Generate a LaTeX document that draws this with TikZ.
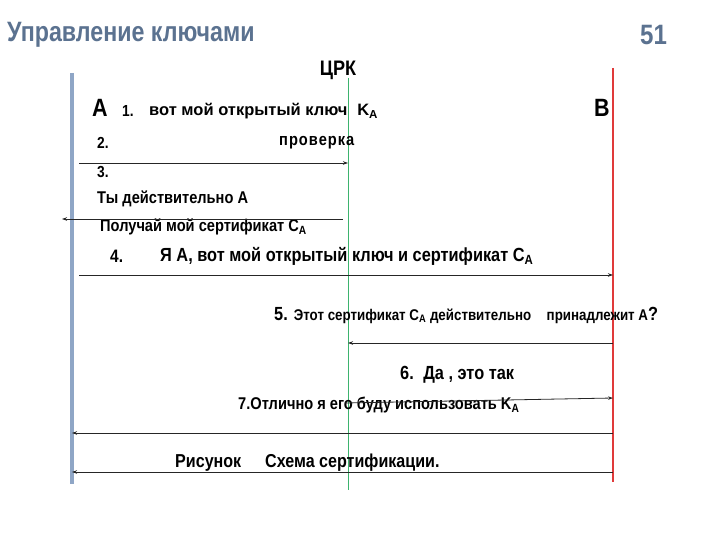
\documentclass[tikz,border=0pt]{standalone}
\usepackage{fontspec}
\setmainfont{Liberation Sans}[FakeStretch=0.86]
\newfontfamily\widefont{Liberation Sans}
\usetikzlibrary{arrows.meta}
\definecolor{titleblue}{HTML}{5B7290}
\definecolor{lifeA}{HTML}{8FA6C6}
\definecolor{lifeC}{HTML}{3DB36E}
\definecolor{lifeB}{HTML}{E03A3A}
\newcommand{\subA}{\textsubscript{A}}
\newcommand{\fs}[1]{\fontsize{#1}{#1}\selectfont\bfseries}
\tikzset{
  lbl/.style={anchor=west, inner sep=0pt, font=\fs{17}},
  msg/.style={draw=black!85, line width=0.8pt, -{Stealth[length=5pt,width=3.5pt]}},
}
\begin{document}
\begin{tikzpicture}[x=1pt,y=-1pt]
\useasboundingbox (0,0) rectangle (720,540);
% title
\node[anchor=west, inner sep=0pt, text=titleblue, font=\fs{28}\addfontfeature{FakeStretch=0.83}] (title) at (7,35) {Управление ключами};
\node[anchor=west, inner sep=0pt, text=titleblue, font=\fs{28}] (num) at (640,35) {51};
% lifelines
\coordinate (Atop) at (72,73); \coordinate (Abot) at (72,484);
\coordinate (Ctop) at (348,78); \coordinate (Cbot) at (348,490);
\coordinate (Btop) at (613,68); \coordinate (Bbot) at (613,482);
\draw[lifeA, line width=4pt] (Atop) -- (Abot);
\draw[lifeC, line width=1pt] (Ctop) -- (Cbot);
\draw[lifeB, line width=1.2pt] (Btop) -- (Bbot);
% headers
\node[inner sep=0pt, font=\fs{21}] (crk) at (338,70) {ЦРК};
\node[lbl, font=\fs{25}] (pA) at (92,108) {А};
\node[lbl, font=\fs{25}] (pB) at (594,108) {В};
% messages text
\node[lbl, font=\fs{16}] (m1n) at (122,111) {1.};
\node[lbl, font=\widefont\fs{16.5}] (m1) at (149,111) {вот мой открытый ключ\hspace{10pt}K\subA};
\node[lbl, font=\fs{16}] (m2n) at (97,143) {2.};
\node[lbl, font=\fs{17}\addfontfeature{LetterSpace=6}] (m2) at (279,143) {проверка};
\node[lbl, font=\fs{16}] (m3n) at (97,172) {3.};
\node[lbl] (m3) at (97,199) {Ты действительно А};
\node[lbl, font=\fs{17}] (m3b) at (100,227) {Получай мой сертификат C\subA};
\node[lbl, font=\fs{18}] (m4n) at (110,256) {4.};
\node[lbl, font=\fs{19}] (m4) at (160,256) {Я А, вот мой открытый ключ и сертификат C\subA};
\node[lbl, font=\fs{19}] (m5) at (274,315) {5. {\fs{15.5}Этот сертификат C\subA{} действительно\quad принадлежит А}?};
\node[lbl, font=\fs{19}] (m6) at (400,375) {6.\enspace Да , это так};
\node[lbl, font=\fs{17}] (m7) at (238,405) {7.Отлично я его буду использовать K\subA};
\node[lbl, font=\fs{18.7}] (fig1) at (175,463) {Рисунок};
\node[lbl, font=\fs{18.7}] (fig2) at (265,463) {Схема сертификации.};
% arrows
\coordinate (a1s) at (79,163); \coordinate (a1e) at (348,163);
\draw[msg] (a1s) -- (a1e);
\coordinate (a2s) at (343,219); \coordinate (a2e) at (62,219);
\draw[msg] (a2s) -- (a2e);
\coordinate (a3s) at (79,275); \coordinate (a3e) at (613,275);
\draw[msg] (a3s) -- (a3e);
\coordinate (a4s) at (613,343); \coordinate (a4e) at (348,343);
\draw[msg] (a4s) -- (a4e);
\coordinate (a5s) at (345,403); \coordinate (a5e) at (613,398);
\draw[msg] (a5s) -- (a5e);
\coordinate (a6s) at (613,433); \coordinate (a6e) at (72,433);
\draw[msg] (a6s) -- (a6e);
\coordinate (a7s) at (613,472); \coordinate (a7e) at (72,472);
\draw[msg] (a7s) -- (a7e);
\end{tikzpicture}
\end{document}
